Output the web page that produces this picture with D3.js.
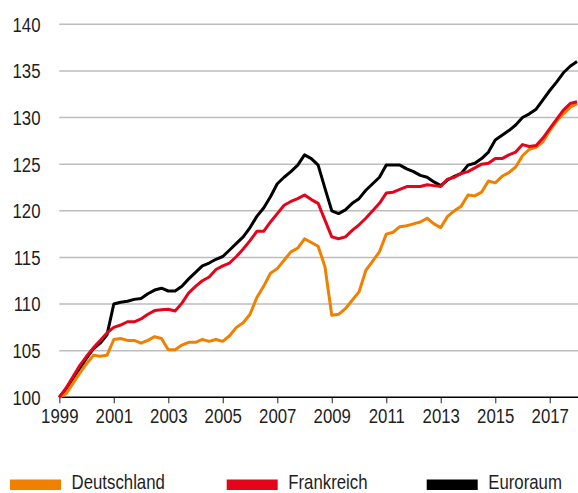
<!DOCTYPE html>
<html>
<head>
<meta charset="utf-8">
<script src="https://cdn.jsdelivr.net/npm/d3@7"></script>
<style>
  html, body { margin: 0; padding: 0; background: #fff; }
  svg { display: block; }
  text { font-family: "Liberation Sans", Arial, sans-serif; fill: #1e1e1e; }
</style>
</head>
<body>
<svg id="chart" width="578" height="493"></svg>
<script>
// Quarterly index values, 1999 Q1 = 100, from 1999 Q1 to 2018 Q1
const quarters = [
  "1999Q1","1999Q2","1999Q3","1999Q4","2000Q1","2000Q2","2000Q3","2000Q4",
  "2001Q1","2001Q2","2001Q3","2001Q4","2002Q1","2002Q2","2002Q3","2002Q4",
  "2003Q1","2003Q2","2003Q3","2003Q4","2004Q1","2004Q2","2004Q3","2004Q4",
  "2005Q1","2005Q2","2005Q3","2005Q4","2006Q1","2006Q2","2006Q3","2006Q4",
  "2007Q1","2007Q2","2007Q3","2007Q4","2008Q1","2008Q2","2008Q3","2008Q4",
  "2009Q1","2009Q2","2009Q3","2009Q4","2010Q1","2010Q2","2010Q3","2010Q4",
  "2011Q1","2011Q2","2011Q3","2011Q4","2012Q1","2012Q2","2012Q3","2012Q4",
  "2013Q1","2013Q2","2013Q3","2013Q4","2014Q1","2014Q2","2014Q3","2014Q4",
  "2015Q1","2015Q2","2015Q3","2015Q4","2016Q1","2016Q2","2016Q3","2016Q4",
  "2017Q1","2017Q2","2017Q3","2017Q4","2018Q1"
];

const deutschland = [
  100.0,100.4,101.5,102.6,103.6,104.5,104.4,104.5,
  106.2,106.3,106.1,106.1,105.8,106.1,106.5,106.3,
  105.1,105.1,105.6,105.9,105.9,106.2,106.0,106.2,
  106.0,106.6,107.5,108.0,108.9,110.7,111.9,113.3,
  113.8,114.7,115.6,116.0,117.0,116.6,116.2,114.0,
  108.8,108.9,109.5,110.4,111.3,113.6,114.6,115.6,
  117.5,117.7,118.3,118.4,118.6,118.8,119.2,118.6,
  118.2,119.4,120.0,120.5,121.7,121.6,122.0,123.2,
  123.0,123.7,124.1,124.7,125.9,126.6,126.8,127.4,
  128.6,129.6,130.4,131.1,131.5
];

const frankreich = [
  100.0,101.0,102.2,103.4,104.4,105.3,106.1,106.9,
  107.5,107.75,108.1,108.1,108.4,108.9,109.3,109.4,
  109.45,109.25,110.1,111.2,111.9,112.5,112.9,113.7,
  114.1,114.4,115.1,115.9,116.8,117.8,117.8,118.8,
  119.7,120.6,121.0,121.3,121.7,121.2,120.8,119.0,
  117.2,117.0,117.2,117.9,118.5,119.2,120.0,120.8,
  121.9,122.0,122.3,122.6,122.6,122.6,122.8,122.7,
  122.6,123.4,123.6,124.0,124.2,124.6,125.0,125.1,
  125.6,125.6,126.0,126.3,127.1,126.9,127.0,127.8,
  128.8,129.8,130.8,131.5,131.7
];

const euroraum = [
  100.0,100.9,102.0,103.1,104.2,105.2,105.8,106.7,
  110.0,110.2,110.3,110.5,110.6,111.1,111.5,111.7,
  111.4,111.4,111.9,112.7,113.4,114.1,114.4,114.8,
  115.1,115.8,116.5,117.2,118.2,119.4,120.3,121.5,
  122.9,123.6,124.2,124.9,126.0,125.6,124.9,122.4,
  120.0,119.7,120.1,120.8,121.3,122.2,122.9,123.6,
  124.9,124.9,124.9,124.5,124.2,123.8,123.6,123.1,
  122.7,123.3,123.7,124.0,124.9,125.1,125.6,126.3,
  127.6,128.1,128.6,129.2,130.0,130.4,130.9,131.9,
  132.9,133.8,134.8,135.5,136.0
];

const xTickYears = [1999, 2001, 2003, 2005, 2007, 2009, 2011, 2013, 2015, 2017];
const yTicks = [100, 105, 110, 115, 120, 125, 130, 135, 140];

const seriesNames = ["Deutschland", "Frankreich", "Euroraum"];
const seriesColors = ["#f08000", "#e3051b", "#000000"];

// ---- drawing ----
const svg = d3.select("#chart");
const plotLeft = 59.3, plotRight = 578;
const narrow = 0.82;   // horizontal squeeze to imitate a condensed typeface
const fs = 20.5;

function qToYear(q) {
  const yr = +q.slice(0, 4), k = +q.slice(5);
  return yr + (k - 1) / 4;
}

const x = d3.scaleLinear().domain([1999, 2018]).range([plotLeft, 577]);
const y = d3.scaleLinear().domain([100, 140]).range([397.3, 24.3]);

// gridlines
svg.append("g")
  .selectAll("line")
  .data(yTicks.filter(t => t !== 100))
  .join("line")
  .attr("x1", plotLeft).attr("x2", plotRight)
  .attr("y1", d => y(d)).attr("y2", d => y(d))
  .attr("stroke", "#bdbdbd").attr("stroke-width", 1.4);

// y labels
svg.append("g")
  .selectAll("text")
  .data(yTicks)
  .join("text")
  .attr("transform", d => `translate(40.5,${y(d)}) scale(${narrow},1)`)
  .attr("dy", "0.36em")
  .attr("text-anchor", "end")
  .attr("font-size", fs)
  .text(d => d);

// x axis
const xAxis = d3.axisBottom(x)
  .tickValues(xTickYears)
  .tickFormat(d3.format("d"))
  .tickSize(6)
  .tickPadding(5);

const gx = svg.append("g")
  .attr("transform", `translate(0,${y(100)})`)
  .call(xAxis);
gx.attr("font-family", null).attr("font-size", null);
gx.select(".domain").remove();
gx.selectAll(".tick line").attr("stroke", "#444").attr("stroke-width", 1.2);
gx.selectAll(".tick text")
  .attr("font-size", fs)
  .attr("fill", "#1e1e1e")
  .attr("transform", `scale(${narrow},1)`);

svg.append("line")
  .attr("x1", plotLeft).attr("x2", plotRight)
  .attr("y1", y(100)).attr("y2", y(100))
  .attr("stroke", "#000").attr("stroke-width", 1.6);

// lines
const allSeries = [
  { name: seriesNames[2], values: euroraum, color: seriesColors[2] },
  { name: seriesNames[0], values: deutschland, color: seriesColors[0] },
  { name: seriesNames[1], values: frankreich, color: seriesColors[1] }
];

const line = d3.line()
  .x((d, i) => x(qToYear(quarters[i])))
  .y(d => y(d));

svg.append("g")
  .selectAll("path")
  .data(allSeries)
  .join("path")
  .attr("d", d => line(d.values))
  .attr("fill", "none")
  .attr("stroke", d => d.color)
  .attr("stroke-width", 3)
  .attr("stroke-linejoin", "round")
  .attr("stroke-linecap", "butt");

// legend
const legendX = [10, 226.7, 426.7];
const legend = svg.append("g")
  .selectAll("g")
  .data(seriesNames)
  .join("g")
  .attr("transform", (d, i) => `translate(${legendX[i]},0)`);

legend.append("rect")
  .attr("x", 0).attr("y", 479.5)
  .attr("width", 51).attr("height", 10.5)
  .attr("fill", (d, i) => seriesColors[i]);

legend.append("text")
  .attr("transform", `translate(61.5,488.5) scale(${narrow},1)`)
  .attr("font-size", fs)
  .text(d => d);
</script>
</body>
</html>
